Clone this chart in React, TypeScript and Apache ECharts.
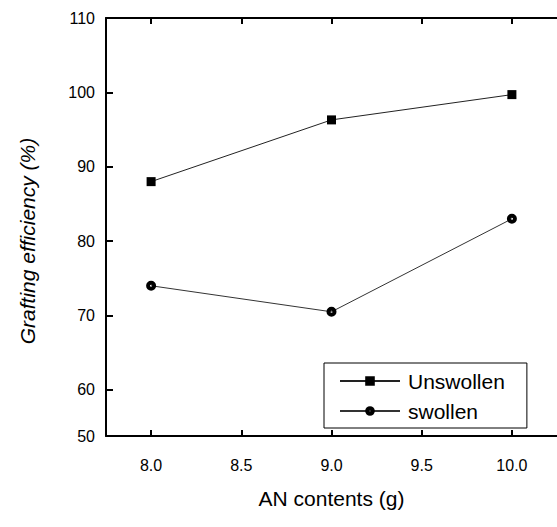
import React, { useEffect, useRef } from "react";
import * as echarts from "echarts";

// AN content (g) on the x axis
const anContents = [8.0, 9.0, 10.0];
// Grafting efficiency (%) for each sample type
const unswollen = [88.0, 96.3, 99.7];
const swollen = [74.0, 70.5, 83.0];
// Value-axis tick labels
const yTicks = [60, 70, 80, 90, 100, 110];
const xTicks = [8.0, 8.5, 9.0, 9.5, 10.0];

const FONT = "'Liberation Sans', Arial, Helvetica, sans-serif";
// bottom of the value axis (printed as "50" at the corner)
const Y_BOTTOM = 53.8;
// filled disc with a small hole in the centre (inner circle wound the other way)
const DOT_RING =
  "path://M0,-5A5,5 0 1,1 0,5A5,5 0 1,1 0,-5ZM0,-1.1A1.1,1.1 0 1,0 0,1.1A1.1,1.1 0 1,0 0,-1.1Z";

export default function App() {
  const ref = useRef<HTMLDivElement>(null);

  useEffect(() => {
    if (!ref.current) return;
    const chart = echarts.init(ref.current, null, { renderer: "svg" });

    const axisLine = { show: true, lineStyle: { color: "#000", width: 2 } };
    const tickStyle = { color: "#000", width: 2 };

    chart.setOption({
      animation: false,
      backgroundColor: "#fff",
      grid: { left: 106, top: 18, width: 455, height: 418, containLabel: false },
      legend: {
        orient: "vertical",
        left: 324,
        top: 363,
        padding: [7, 22, 6, 15],
        itemGap: 8,
        itemWidth: 60,
        itemHeight: 12,
        borderColor: "#000",
        borderWidth: 1,
        textStyle: { fontFamily: FONT, fontSize: 21, lineHeight: 22, color: "#000", padding: [0, 0, 0, 3] },
        data: ["Unswollen", "swollen"],
      },
      graphic: [
        {
          type: "text",
          x: 27,
          y: 241,
          rotation: Math.PI / 2,
          style: {
            text: "Grafting efficiency (%)",
            fontFamily: FONT,
            fontSize: 21,
            fontStyle: "italic",
            fill: "#000",
            align: "center",
            verticalAlign: "middle",
          },
        },
      ],
      xAxis: [
        {
          type: "value",
          min: 7.75,
          max: 10.25,
          name: "AN contents (g)",
          nameLocation: "middle",
          nameGap: 52,
          nameTextStyle: { fontFamily: FONT, fontSize: 21, color: "#000" },
          axisLine,
          axisTick: { show: true, inside: true, length: 6, customValues: xTicks, lineStyle: tickStyle },
          axisLabel: {
            customValues: xTicks,
            margin: 21,
            fontFamily: FONT,
            fontSize: 16,
            color: "#000",
            formatter: (v: number) => v.toFixed(1),
          },
          splitLine: { show: false },
        },
        {
          type: "value",
          position: "top",
          min: 7.75,
          max: 10.25,
          axisLine,
          axisTick: { show: true, inside: true, length: 6, customValues: xTicks, lineStyle: tickStyle },
          axisLabel: { show: false },
          splitLine: { show: false },
        },
      ],
      yAxis: {
        type: "value",
        min: Y_BOTTOM,
        max: 110,
        axisLine,
        axisTick: { show: true, inside: true, length: 7, customValues: yTicks, lineStyle: tickStyle },
        axisLabel: {
          customValues: [Y_BOTTOM, ...yTicks],
          margin: 11,
          fontFamily: FONT,
          fontSize: 16,
          color: "#000",
          formatter: (v: number) => (v === Y_BOTTOM ? "50" : String(v)),
        },
        splitLine: { show: false },
      },
      series: [
        {
          name: "Unswollen",
          type: "line",
          data: anContents.map((x, i) => [x, unswollen[i]]),
          symbol: "rect",
          symbolSize: 9,
          itemStyle: { color: "#000" },
          lineStyle: { color: "#222", width: 1 },
        },
        {
          name: "swollen",
          type: "line",
          data: anContents.map((x, i) => [x, swollen[i]]),
          symbol: DOT_RING,
          symbolSize: 10,
          itemStyle: { color: "#000", borderWidth: 0 },
          lineStyle: { color: "#333", width: 1 },
        },
      ],
    });

    return () => chart.dispose();
  }, []);

  return (
    <div
      ref={ref}
      style={{ position: "fixed", left: 0, top: 0, width: 557, height: 527, background: "#fff" }}
    />
  );
}
